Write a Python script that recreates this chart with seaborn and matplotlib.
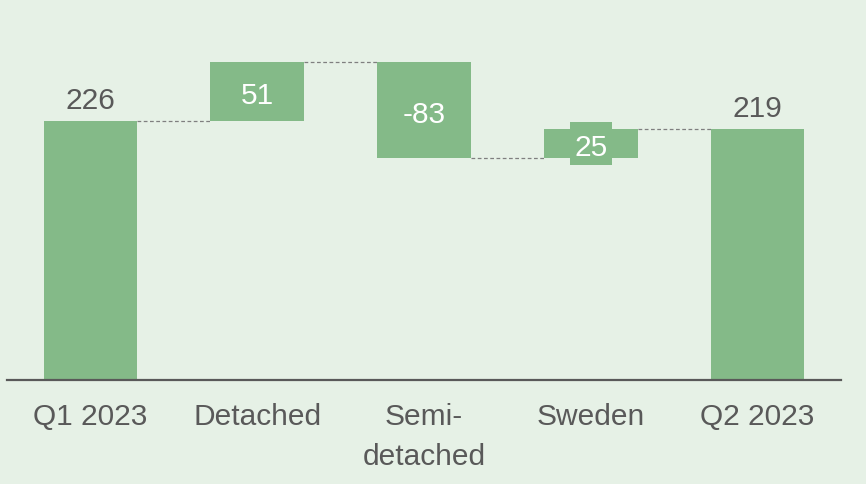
import matplotlib
matplotlib.use("Agg")
import matplotlib.pyplot as plt
from matplotlib.patches import Rectangle
import seaborn as sns
import pandas as pd
import numpy as np

categories = ["Q1 2023", "Detached", "Semi-\ndetached", "Sweden", "Q2 2023"]
values = [226, 51, -83, 25, 219]
is_total = [True, False, False, False, True]

BG = "#E6F1E6"
BAR = "#84BA88"
GREY = "#595959"
FS = 21.5

# waterfall geometry from values
bottoms, heights, tops = [], [], []
running = 0
for v, t in zip(values, is_total):
    if t:
        bottoms.append(0); heights.append(v); running = v
    else:
        bottoms.append(running); heights.append(v); running = running + v
    tops.append(running)

df = pd.DataFrame({"cat": categories, "height": heights})

sns.set_theme(style="white")
plt.rcParams["font.family"] = ["Liberation Sans", "DejaVu Sans"]

fig = plt.figure(figsize=(8.66, 4.84), dpi=100, facecolor=BG)
ax = fig.add_axes([7/866, 1 - 380/484, (841 - 7)/866, (380 - 13)/484])
ax.set_facecolor(BG)

w = 0.56
sns.barplot(data=df, x="cat", y="height", order=categories, color=BAR,
            saturation=1, width=w, errorbar=None, bottom=bottoms, ax=ax,
            linewidth=0)

ax.set_xlim(-0.5, 4.5)
ax.set_ylim(0, 320)

# connectors
for i in range(len(values) - 1):
    ax.plot([i + w/2, i + 1 - w/2], [tops[i], tops[i]], ls=(0, (3, 2)),
            color="#7F7F7F", lw=0.9, zorder=1)

# labels
for i, (v, t) in enumerate(zip(values, is_total)):
    if t:
        ax.annotate(f"{v}", (i, v), xytext=(0, 4.5), textcoords="offset points",
                    ha="center", va="bottom", fontsize=FS, color=GREY)
    else:
        mid = bottoms[i] + heights[i] / 2
        # label background box (same colour as bars)
        bw, bh = 0.252, 37.5
        ax.add_patch(Rectangle((i - bw/2, mid - bh/2), bw, bh, fc=BAR,
                               ec="none", zorder=4))
        ax.annotate(f"{v}", (i, mid), xytext=(0, -3.5), textcoords="offset points",
                    ha="center", va="center", fontsize=FS, color="white",
                    zorder=5)

for s in ["top", "left", "right"]:
    ax.spines[s].set_visible(False)
ax.spines["bottom"].set_color(GREY)
ax.spines["bottom"].set_linewidth(1.6)
ax.set_yticks([])
ax.set_xlabel("")
ax.set_ylabel("")
ax.tick_params(axis="x", length=0, pad=16.5, labelsize=FS, labelcolor=GREY)
for lab in ax.get_xticklabels():
    lab.set_linespacing(1.55)

fig.savefig("out.png", dpi=100, facecolor=BG)
